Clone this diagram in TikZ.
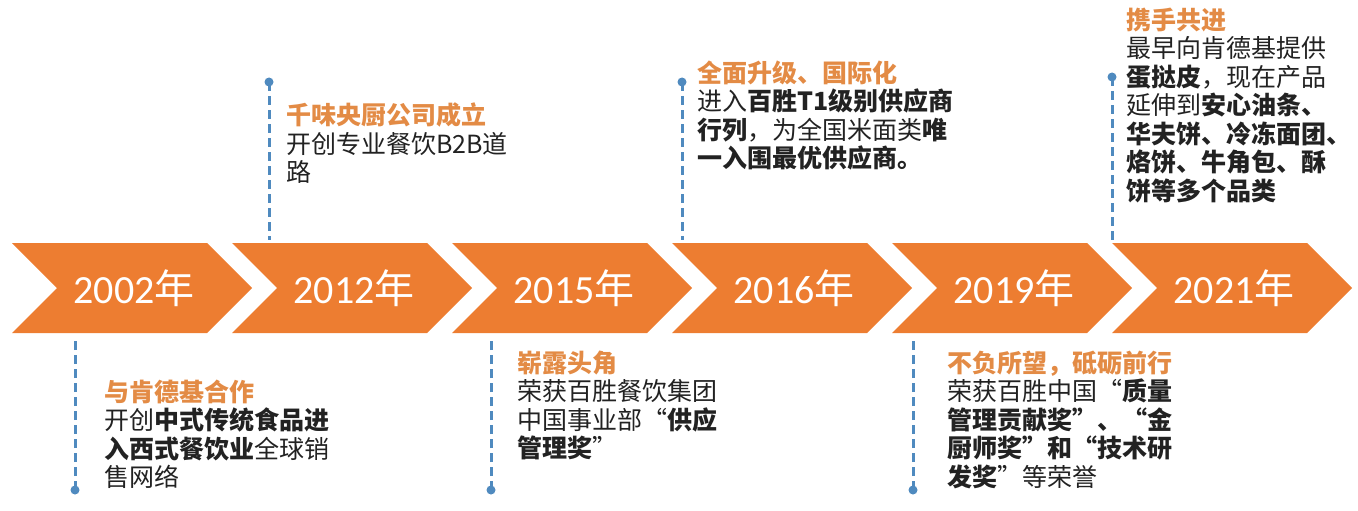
\documentclass[tikz,border=0pt]{standalone}
\usepackage{fontspec}
\setmainfont{Noto Sans CJK SC}
\newfontfamily\yearfont{Carlito}
\definecolor{chev}{HTML}{ED7D31}
\definecolor{ttlcol}{HTML}{E38B45}
\definecolor{txtcol}{HTML}{222222}
\definecolor{dashcol}{HTML}{4F8ABF}
\newcommand\bfx[1]{\textbf{#1}}
\newcommand\ttlx[1]{\textcolor{ttlcol}{\textbf{#1}}}
\tikzset{
  chevshape/.style={fill=chev},
  yearlbl/.style={text=white, font=\fontsize{40}{44}\selectfont, inner sep=0},
  txtblock/.style={anchor=north west, align=left, inner sep=0, text=txtcol, font=\fontsize{25}{28.5}\selectfont},
  dotnode/.style={circle, fill=dashcol, inner sep=0, minimum size=9pt},
  dashline/.style={draw=dashcol, line width=3pt, dash pattern=on 9pt off 5pt},
}
\begin{document}
\begin{tikzpicture}[x=1pt,y=-1pt]
\useasboundingbox (0,0) rectangle (1358,511);
\foreach \i/\yr in {0/2002,1/2012,2/2015,3/2016,4/2019,5/2021}{
  \pgfmathsetmacro\L{12+220*\i}
  \fill[chevshape] (\L,243) -- (\L+195,243) -- (\L+240,288) -- (\L+195,333) -- (\L,333) -- (\L+45,288) -- cycle;
  \node[yearlbl] (y\yr) at (\L+122,288) {{\yearfont \yr}年};
}
% top connectors
\node[dotnode] (d2012) at (269,82) {};
\coordinate (c2012) at (269,240);
\node[dotnode] (d2016) at (682,82) {};
\coordinate (c2016) at (682,240);
\node[dotnode] (d2021) at (1112,77) {};
\coordinate (c2021) at (1112,240);
% bottom connectors
\node[dotnode] (d2002) at (75,490) {};
\coordinate (c2002) at (75,338);
\node[dotnode] (d2015) at (491,490) {};
\coordinate (c2015) at (491,338);
\node[dotnode] (d2019) at (913,490) {};
\coordinate (c2019) at (913,338);
\foreach \n in {2012,2016,2021,2002,2015,2019}{
  \draw[dashline] (d\n.center) -- (c\n);
}
% text blocks
\node[txtblock] (t2012) at (286,102.5) {\ttlx{千味央厨公司成立}\\开创专业餐饮B2B道\\路};
\node[txtblock] (t2016) at (697,60.5) {\ttlx{全面升级、国际化}\\进入\bfx{百胜T1级别供应商}\\\bfx{行列}，为全国米面类\bfx{唯}\\\bfx{一入围最优供应商。}};
\node[txtblock] (t2021) at (1126,7.5) {\ttlx{携手共进}\\最早向肯德基提供\\\bfx{蛋挞皮}，现在产品\\延伸到\bfx{安心油条、}\\\bfx{华夫饼、冷冻面团、}\\\bfx{烙饼、牛角包、酥}\\\bfx{饼等多个品类}};
\node[txtblock] (t2002) at (104,379.5) {\ttlx{与肯德基合作}\\开创\bfx{中式传统食品进}\\\bfx{入西式餐饮业}全球销\\售网络};
\node[txtblock] (t2015) at (517,350.5) {\ttlx{崭露头角}\\荣获百胜餐饮集团\\中国事业部“\bfx{供应}\\\bfx{管理奖}”};
\node[txtblock] (t2019) at (947,350.5) {\ttlx{不负所望，砥砺前行}\\荣获百胜中国“\bfx{质量}\\\bfx{管理贡献奖”、“金}\\\bfx{厨师奖”和“技术研}\\\bfx{发奖}”等荣誉};
\end{tikzpicture}
\end{document}
